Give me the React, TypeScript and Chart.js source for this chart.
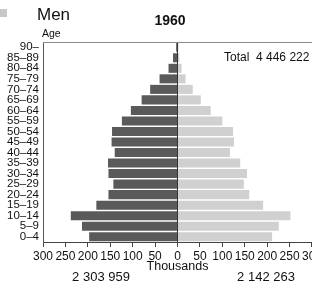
import React, { useEffect, useRef } from "react";
import { Chart, registerables } from "chart.js";

Chart.register(...registerables);

const ageGroups = ["90–", "85–89", "80–84", "75–79", "70–74", "65–69", "60–64", "55–59", "50–54", "45–49", "40–44", "35–39", "30–34", "25–29", "20–24", "15–19", "10–14", "5–9", "0–4"];
const menThousands = [3, 10, 20, 40, 61, 80, 104, 124, 146, 147, 140, 155, 154, 143, 154, 181, 238, 213, 197];
const womenThousands = [2, 4, 9, 18, 34, 52, 74, 100, 124, 126, 117, 140, 155, 148, 160, 191, 252, 226, 211];
const xTicks = [-300, -250, -200, -150, -100, -50, 0, 50, 100, 150, 200, 250, 300];
const titleText = "1960";
const legendText = "Men";
const axisTitleY = "Age";
const axisTitleX = "Thousands";
const totalText = "Total  4 446 222";
const menTotalText = "2 303 959";
const womenTotalText = "2 142 263";

const FONT = "'Liberation Sans', Arial, sans-serif";

export default function App() {
  const ref = useRef<HTMLCanvasElement | null>(null);
  useEffect(() => {
    if (!ref.current) return;
    const textPlugin = {
      id: "texts",
      afterDraw(chart: any) {
        const { ctx, chartArea } = chart;
        const xs = chart.scales.x;
        ctx.save();
        ctx.strokeStyle = "#8a8a8a";
        ctx.lineWidth = 1;
        ctx.beginPath();
        ctx.moveTo(chartArea.left, chartArea.top + 0.5);
        ctx.lineTo(chartArea.right, chartArea.top + 0.5);
        ctx.stroke();
        ctx.fillStyle = "#c8c8c8";
        ctx.fillRect(0, 9, 7, 8);
        ctx.fillStyle = "#111";
        ctx.textBaseline = "alphabetic";
        ctx.textAlign = "left";
        ctx.font = `17px ${FONT}`;
        ctx.fillText(legendText, 37, 20);
        ctx.font = `bold 14px ${FONT}`;
        ctx.textAlign = "center";
        ctx.fillText(titleText, 170, 25);
        ctx.font = `10.5px ${FONT}`;
        ctx.textAlign = "left";
        ctx.fillText(axisTitleY, 42, 37);
        ctx.font = `12px ${FONT}`;
        ctx.fillText(totalText, 224, 61);
        ctx.textAlign = "center";
        ctx.font = `12.5px ${FONT}`;
        ctx.fillText(axisTitleX, xs.getPixelForValue(0), 270);
        ctx.font = `13px ${FONT}`;
        ctx.fillText(menTotalText, 101, 281);
        ctx.fillText(womenTotalText, 266, 281);
        ctx.restore();
      },
    };
    const chart = new Chart(ref.current, {
      type: "bar",
      data: {
        labels: ageGroups,
        datasets: [
          {
            label: "Men",
            data: menThousands.map((v) => -v),
            backgroundColor: "#5a5a5a",
            barPercentage: 0.86,
            categoryPercentage: 1,
          },
          {
            label: "Women",
            data: womenThousands,
            backgroundColor: "#d0d0d0",
            barPercentage: 0.86,
            categoryPercentage: 1,
          },
        ],
      },
      options: {
        indexAxis: "y",
        responsive: false,
        animation: false,
        devicePixelRatio: 1,
        layout: { padding: { top: 42, right: 11.5, left: 0, bottom: 0 } },
        plugins: { legend: { display: false }, tooltip: { enabled: false }, title: { display: false } },
        scales: {
          x: {
            type: "linear",
            stacked: true,
            min: -300,
            max: 300,
            afterBuildTicks: (s: any) => {
              s.ticks = xTicks.map((v) => ({ value: v }));
            },
            afterFit: (s: any) => {
              s.height = 41;
            },
            ticks: {
              callback: (v: any) => String(Math.abs(Number(v))),
              color: "#111",
              font: { size: 12, family: FONT },
              padding: 2,
              maxRotation: 0,
              autoSkip: false,
            },
            grid: {
              drawOnChartArea: true,
              color: (c: any) => (c.tick && c.tick.value === 0 ? "#333" : "rgba(0,0,0,0)"),
              tickColor: "#444",
              tickLength: 5,
            },
            border: { display: true, color: "#444", width: 1 },
          },
          y: {
            stacked: true,
            afterFit: (s: any) => {
              s.width = 43;
            },
            ticks: {
              color: "#111",
              font: { size: 11.5, family: FONT },
              padding: 4,
              autoSkip: false,
            },
            grid: { display: false, drawTicks: false },
            border: { display: true, color: "#555", width: 1 },
          },
        },
      },
      plugins: [textPlugin],
    } as any);
    return () => chart.destroy();
  }, []);
  return (
    <div style={{ position: "fixed", left: 0, top: 0, width: 312, height: 283, overflow: "hidden", background: "#fff" }}>
      <canvas ref={ref} width={324} height={283} style={{ display: "block" }} />
    </div>
  );
}
